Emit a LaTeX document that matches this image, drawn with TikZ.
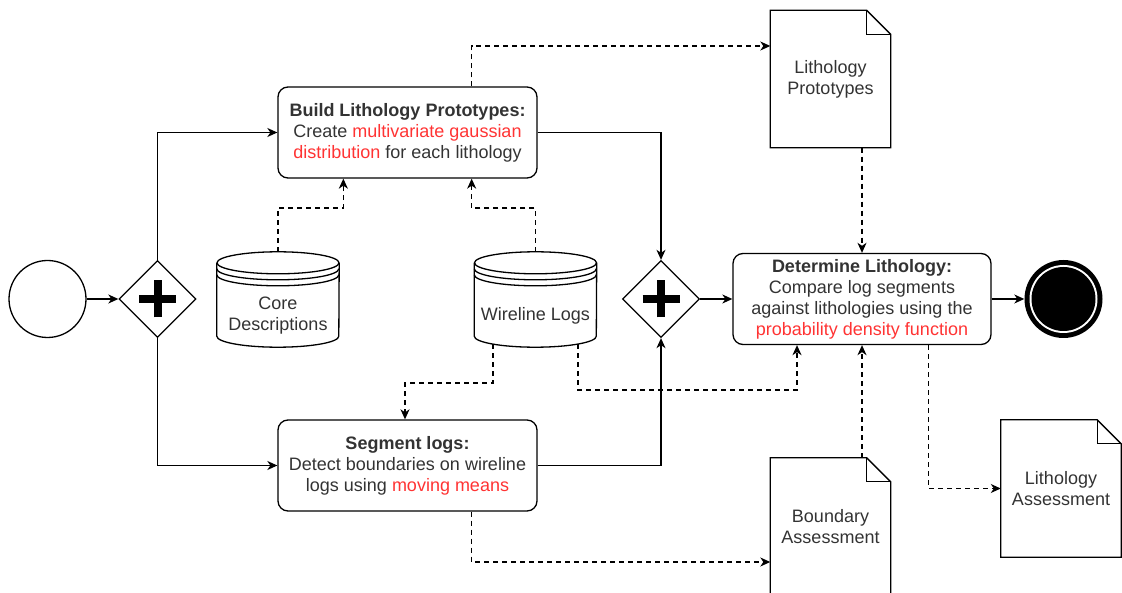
\documentclass[tikz,border=0pt]{standalone}
\usepackage{fontspec}
\setmainfont{Liberation Sans}
\usetikzlibrary{shapes.geometric,arrows.meta,calc}
\definecolor{txt}{HTML}{333333}
\definecolor{hlred}{HTML}{FF3333}
\newcommand\hilite[1]{\textcolor{hlred}{#1}}
\newcommand\drawstore[1]{%
  \draw[shapeline] ([yshift=-11pt]#1.north west) -- ([yshift=11pt]#1.south west)
    arc[start angle=180,end angle=360,x radius=61pt,y radius=11pt]
    -- ([yshift=-11pt]#1.north east);
  \draw[shapeline] ([yshift=-11pt]#1.north) ellipse[x radius=61pt,y radius=11pt];
  \draw[shapeline] ([yshift=-17pt]#1.north west) arc[start angle=180,end angle=360,x radius=61pt,y radius=11pt];
  \draw[shapeline] ([yshift=-23pt]#1.north west) arc[start angle=180,end angle=360,x radius=61pt,y radius=11pt];
}
\newcommand\drawdoc[1]{%
  \draw[shapeline] (#1.north west) -- ([xshift=-24pt]#1.north east) -- ([yshift=-24pt]#1.north east)
    -- (#1.south east) -- (#1.south west) -- cycle;
  \draw[shapeline] ([xshift=-24pt]#1.north east) -- ([xshift=-24pt,yshift=-24pt]#1.north east) -- ([yshift=-24pt]#1.north east);
}
\newcommand\drawplus[1]{%
  \draw[line width=8pt] ([xshift=-18.5pt]#1.center) -- ([xshift=18.5pt]#1.center);
  \draw[line width=8pt] ([yshift=-18.5pt]#1.center) -- ([yshift=18.5pt]#1.center);
}
\begin{document}
\begin{tikzpicture}[x=1pt,y=-1pt,
  font=\fontsize{18}{21}\selectfont, text=txt,
  shapeline/.style={line width=1.3pt},
  task/.style={draw, line width=1.3pt, rounded corners=10pt, minimum width=259pt, minimum height=91pt, align=center, inner sep=2pt},
  gate/.style={draw, diamond, line width=1.3pt, minimum width=77pt, minimum height=77pt, inner sep=0pt},
  startev/.style={draw, circle, line width=1.3pt, minimum size=77pt, inner sep=0pt},
  endev/.style={circle, fill=black, minimum size=78pt, inner sep=0pt},
  doc/.style={minimum width=120pt, minimum height=137pt, inner sep=0pt, align=center},
  store/.style={minimum width=122pt, minimum height=95pt, inner sep=0pt},
  flow/.style={line width=1.3pt, -{Stealth[length=10pt,width=9pt,inset=3pt]}},
  data/.style={flow, dash pattern=on 5pt off 4pt}]
\useasboundingbox (0,0) rectangle (1122,593);
\clip (0,0) rectangle (1122,593);

% events and gateways
\node[startev] (start) at (47.5,299) {};
\node[gate] (gw1) at (157.5,299) {};
\node[gate] (gw2) at (661,299) {};
\node[endev] (end) at (1063.5,299) {};
\fill[white] (end.center) circle (34pt);
\fill[black] (end.center) circle (32pt);
\drawplus{gw1}
\drawplus{gw2}

% tasks
\node[task] (build) at (407.5,132.5) {\textbf{Build Lithology Prototypes:}\\Create \hilite{multivariate gaussian}\\\hilite{distribution} for each lithology};
\node[task] (seg) at (407.5,465.5) {\textbf{Segment logs:}\\Detect boundaries on wireline\\logs using \hilite{moving means}};
\node[task, minimum width=258pt] (det) at (862,299) {\textbf{Determine Lithology:}\\Compare log segments\\against lithologies using the\\\hilite{probability density function}};

% data stores
\node[store, label={[align=center, yshift=-16pt]center:Core\\Descriptions}] (core) at (278,299.5) {};
\node[store, label={[align=center, yshift=-16pt]center:Wireline Logs}] (wire) at (535.5,299.5) {};
\drawstore{core}
\drawstore{wire}

% documents
\node[doc] (lp) at (830.5,79) {Lithology\\Prototypes};
\node[doc, minimum height=138pt] (bd) at (830.5,527) {Boundary\\Assessment};
\node[doc] (la) at (1061,488.5) {Lithology\\Assessment};
\drawdoc{lp}
\drawdoc{bd}
\drawdoc{la}

% helper coordinates
\coordinate (y46) at (0,46);
\coordinate (y208) at (0,208);
\coordinate (y383) at (0,383);
\coordinate (y390) at (0,390);
\coordinate (y562) at (0,562);
\coordinate (x405) at (405,0);
\coordinate (x797) at (797,0);
\coordinate (x862) at (862,0);
\coordinate (w1) at ([xshift=-42.5pt,yshift=3pt]wire.south);
\coordinate (w2) at ([xshift=42.5pt,yshift=3pt]wire.south);
\coordinate (b1) at ([xshift=-66pt]build.north east);
\coordinate (s1) at ([xshift=-66pt]seg.south east);
\coordinate (d1) at ([xshift=-63pt]det.south east);

% sequence flows
\draw[flow] (start) -- (gw1);
\draw[flow] (gw1.north) |- (build.west);
\draw[flow] (gw1.south) |- (seg.west);
\draw[flow] (build.east) -| (gw2.north);
\draw[flow] (seg.east) -| (gw2.south);
\draw[flow] (gw2.east) -- (det.west);
\draw[flow] (det.east) -- (end.west);

% data associations
\draw[data] (core.north) -- (core.north |- y208) -| ([xshift=66pt]build.south west);
\draw[data] (wire.north) -- (wire.north |- y208) -| ([xshift=-66pt]build.south east);
\draw[data] (b1) |- (lp.west |- y46);
\draw[data] (lp.south -| x862) -- (det.north -| x862);
\draw[data] (w1) -- (w1 |- y383) -| (seg.north -| x405);
\draw[data] (w2) -- (w2 |- y390) -| (det.south -| x797);
\draw[data] (s1) |- (bd.west |- y562);
\draw[data] (bd.north -| x862) -- (det.south -| x862);
\draw[data] (d1) |- (la.west);
\end{tikzpicture}
\end{document}
